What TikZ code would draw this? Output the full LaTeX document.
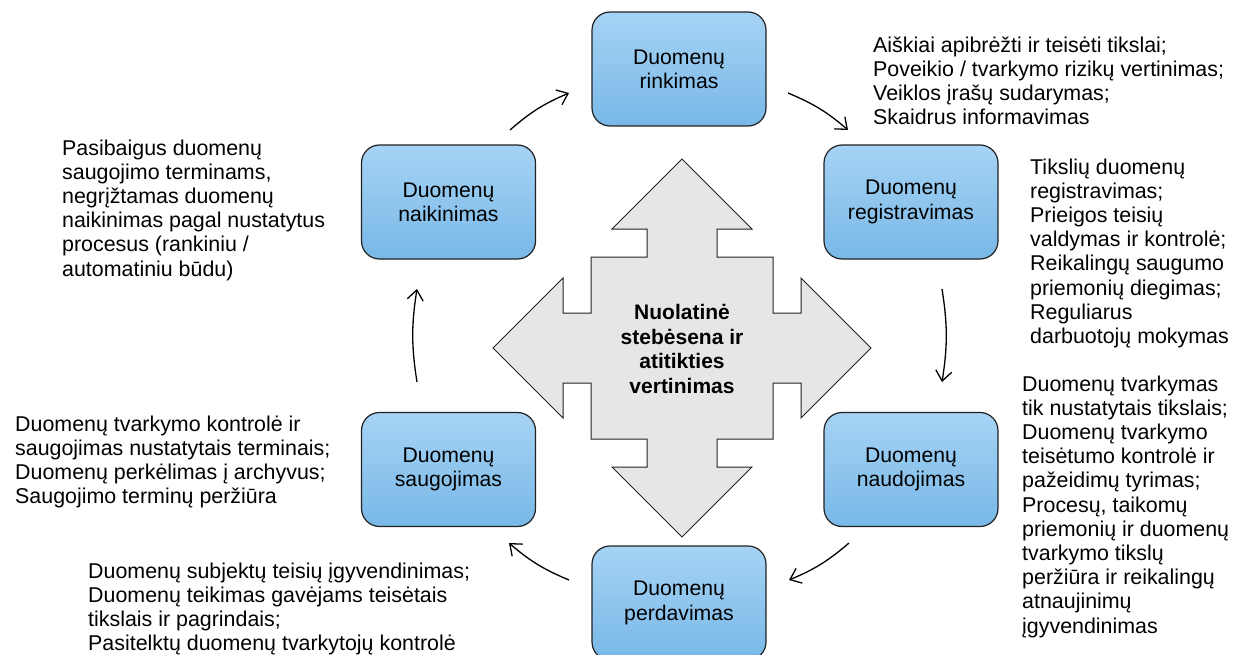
\documentclass[tikz,border=0pt]{standalone}
\usepackage{fontspec}
\setmainfont{Liberation Sans}
\usetikzlibrary{arrows.meta}
\definecolor{boxtop}{HTML}{A6D3F5}
\definecolor{boxbot}{HTML}{78B8E7}
\definecolor{crossfill}{HTML}{E6E6E6}
\definecolor{edge}{HTML}{222222}
\tikzset{
  stage/.style={draw=edge, line width=1.2pt, rounded corners=18pt,
    top color=boxtop, bottom color=boxbot,
    minimum width=174pt, minimum height=114pt, align=center,
    font=\fontsize{21.2}{24.2}\selectfont, inner sep=0pt},
  note/.style={align=left, anchor=north west, inner sep=0pt,
    font=\fontsize{21.4}{24.2}\selectfont},
  cyc/.style={line width=1.3pt, draw=black,
    -{Straight Barb[length=10pt,width=16pt,line width=1.3pt]}, bend left=9},
  hub/.style={draw=edge, line width=1pt, fill=crossfill}
}
\begin{document}
\begin{tikzpicture}[x=1pt,y=-1pt]
\clip (0,0) rectangle (1233,655);
\useasboundingbox (0,0) rectangle (1233,655);

% central four-way arrow
\draw[hub] (682,348) ++(0,-189) -- ++(70,70) -- ++(-35,0) -- ++(0,28) -- ++(56,0)
  -- ++(0,56) -- ++(28,0) -- ++(0,-35) -- ++(70,70) -- ++(-70,70) -- ++(0,-35)
  -- ++(-28,0) -- ++(0,56) -- ++(-56,0) -- ++(0,28) -- ++(35,0) -- ++(-70,70)
  -- ++(-70,-70) -- ++(35,0) -- ++(0,-28) -- ++(-56,0) -- ++(0,-56) -- ++(-28,0)
  -- ++(0,35) -- ++(-70,-70) -- ++(70,-70) -- ++(0,35) -- ++(28,0) -- ++(0,-56)
  -- ++(56,0) -- ++(0,-28) -- ++(-35,0) -- cycle;
\node[align=center, inner sep=0pt, font=\fontsize{21}{24.5}\selectfont\bfseries] (hubtext) at (682,349)
  {Nuolatinė\\stebėsena ir\\atitikties\\vertinimas};

% stages
\node[stage] (rink) at (679,69) {Duomenų\\rinkimas};
\node[stage] (reg) at (911,202) {Duomenų\\registravimas};
\node[stage] (naud) at (911,469.5) {Duomenų\\naudojimas};
\node[stage] (perd) at (679,603) {Duomenų\\perdavimas};
\node[stage] (saug) at (448.5,469.5) {Duomenų\\saugojimas};
\node[stage] (naik) at (448.5,202) {Duomenų\\naikinimas};

% cycle arrows
\coordinate (a1s) at (510,130); \coordinate (a1e) at (569,93);
\coordinate (a2s) at (788,93);  \coordinate (a2e) at (848,130);
\coordinate (a3s) at (942,289); \coordinate (a3e) at (942,382);
\coordinate (a4s) at (849,543); \coordinate (a4e) at (789,580);
\coordinate (a5s) at (569,580); \coordinate (a5e) at (509,543);
\coordinate (a6s) at (417,382); \coordinate (a6e) at (417,289);
\draw[cyc] (a1s) to (a1e);
\draw[cyc] (a2s) to (a2e);
\draw[cyc] (a3s) to (a3e);
\draw[cyc] (a4s) to (a4e);
\draw[cyc] (a5s) to (a5e);
\draw[cyc] (a6s) to (a6e);

% notes
\node[note] (n1) at (873,35) {\strut Aiškiai apibrėžti ir teisėti tikslai;\\Poveikio / tvarkymo rizikų vertinimas;\\Veiklos įrašų sudarymas;\\Skaidrus informavimas};
\node[note] (n2) at (1030,157) {\strut Tikslių duomenų\\registravimas;\\Prieigos teisių\\valdymas ir kontrolė;\\Reikalingų saugumo\\priemonių diegimas;\\Reguliarus\\darbuotojų mokymas};
\node[note] (n3) at (1022,374) {\strut Duomenų tvarkymas\\tik nustatytais tikslais;\\Duomenų tvarkymo\\teisėtumo kontrolė ir\\pažeidimų tyrimas;\\Procesų, taikomų\\priemonių ir duomenų\\tvarkymo tikslų\\peržiūra ir reikalingų\\atnaujinimų\\įgyvendinimas};
\node[note] (n4) at (88,561) {\strut Duomenų subjektų teisių įgyvendinimas;\\Duomenų teikimas gavėjams teisėtais\\tikslais ir pagrindais;\\Pasitelktų duomenų tvarkytojų kontrolė};
\node[note] (n5) at (15,414) {\strut Duomenų tvarkymo kontrolė ir\\saugojimas nustatytais terminais;\\Duomenų perkėlimas į archyvus;\\Saugojimo terminų peržiūra};
\node[note] (n6) at (62,138) {\strut Pasibaigus duomenų\\saugojimo terminams,\\negrįžtamas duomenų\\naikinimas pagal nustatytus\\procesus (rankiniu /\\automatiniu būdu)};
\end{tikzpicture}
\end{document}
